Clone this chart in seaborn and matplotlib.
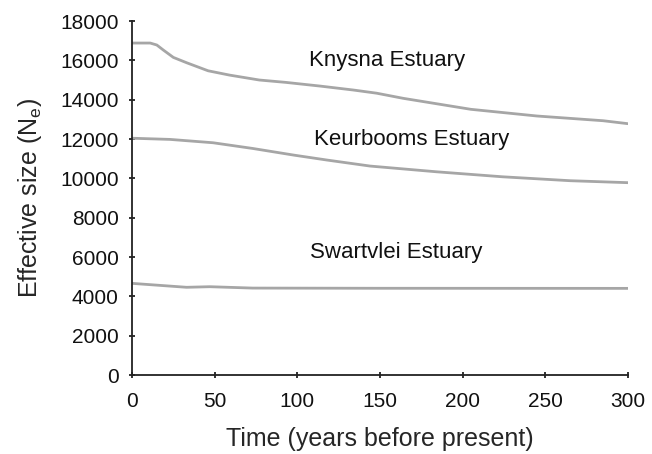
import seaborn as sns
import matplotlib.pyplot as plt
import pandas as pd

# Knysna Estuary
knysna_x = [0, 11, 15, 19, 25, 33, 46, 59, 77, 93, 114, 134, 148, 164, 205, 245, 285, 300]
knysna_y = [16880, 16880, 16780, 16520, 16150, 15880, 15470, 15250, 15000, 14880, 14690,
            14490, 14330, 14070, 13510, 13170, 12930, 12780]

# Keurbooms Estuary
keur_x = [0, 23, 49, 73, 98, 118, 144, 184, 224, 265, 300]
keur_y = [12040, 11980, 11810, 11520, 11180, 10930, 10625, 10335, 10080, 9880, 9780]

# Swartvlei Estuary
swart_x = [0, 33, 47, 73, 150, 300]
swart_y = [4660, 4460, 4490, 4420, 4410, 4405]

nombres = ['Knysna Estuary', 'Keurbooms Estuary', 'Swartvlei Estuary']
etiqueta_pos = [(154, 16000), (169, 12000), (160, 6250)]

x_ticks = [0, 50, 100, 150, 200, 250, 300]
y_ticks = [0, 2000, 4000, 6000, 8000, 10000, 12000, 14000, 16000, 18000]


def graficar():
    filas = []
    for nombre, xs, ys in zip(nombres, [knysna_x, keur_x, swart_x], [knysna_y, keur_y, swart_y]):
        for x, y in zip(xs, ys):
            filas.append({'x': x, 'y': y, 'grupo': nombre})
    df = pd.DataFrame(filas)

    sns.set_style("ticks")
    plt.rcParams['font.family'] = ['Liberation Sans', 'DejaVu Sans']
    plt.rcParams['mathtext.default'] = 'regular'

    fig = plt.figure(figsize=(6.52, 4.54), dpi=100)
    ax = fig.add_axes([0.2025, 0.174, 0.7605, 0.7797])

    sns.lineplot(data=df, x='x', y='y', hue='grupo',
                 palette=['#a6a6a6'] * 3, linewidth=2, legend=False, ax=ax)
    for linea in ax.lines:
        linea.set_solid_joinstyle('round')

    for nombre, (tx, ty) in zip(nombres, etiqueta_pos):
        ax.text(tx, ty, nombre, ha='center', va='center', fontsize=16, color='#111111')

    ax.set_xlim(0, 300)
    ax.set_ylim(0, 18000)
    ax.set_xticks(x_ticks)
    ax.set_yticks(y_ticks)
    ax.tick_params(direction='inout', length=5, width=1.3, labelsize=15,
                   colors='#222222', labelcolor='#111111')
    ax.tick_params(axis='y', pad=7)
    ax.tick_params(axis='x', pad=10)
    for lado in ['left', 'bottom']:
        ax.spines[lado].set_linewidth(1.3)
        ax.spines[lado].set_color('#222222')
    sns.despine(ax=ax)
    ax.spines['left'].set_zorder(5)

    ax.set_xlabel("Time (years before present)", fontsize=18, labelpad=11)
    ax.set_ylabel("Effective size (N$_e$)", fontsize=18, labelpad=12)

    fig.savefig("out.png", dpi=100)


if __name__ == "__main__":
    graficar()
